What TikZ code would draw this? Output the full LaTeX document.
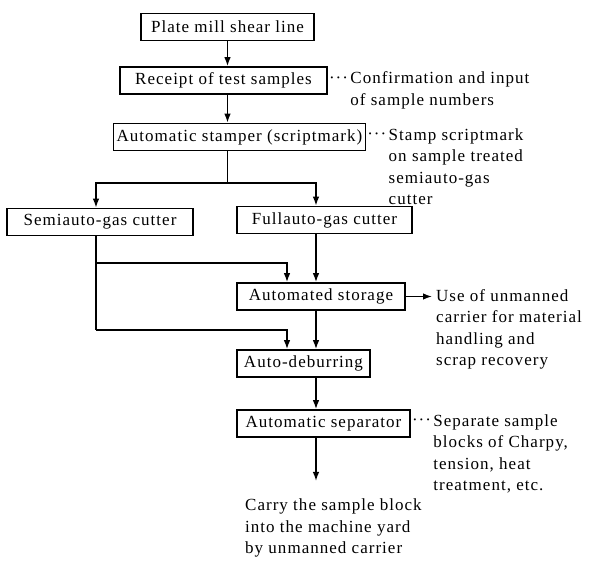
\documentclass[tikz,border=0pt]{standalone}
\usepackage{fontspec}
\setmainfont{Liberation Serif}[LetterSpace=6]
\usetikzlibrary{arrows.meta}

\tikzset{
  stage/.style={draw, line width=1.6pt, minimum height=27pt, inner sep=3pt},
  flow/.style={line width=1.4pt, -{Latex[length=9pt,width=6.5pt]}},
  link/.style={line width=1.4pt},
  note/.style={inner sep=0pt, align=left, anchor=north west, yshift=13pt,
    execute at begin node=\strut},
  dotsep/.style={inner sep=0pt, anchor=base west},
}
\newcommand{\leaddots}{\raisebox{1.5pt}{\textperiodcentered\textperiodcentered\textperiodcentered}}

\begin{document}
\begin{tikzpicture}[x=1pt, y=-1pt, font=\fontsize{17}{21.5}\selectfont]
    \useasboundingbox (0,0) rectangle (606,564);

    % stages of the sample line
    \node[stage, minimum width=173pt] (plate) at (227.5, 27) {Plate mill shear line};
    \node[stage, minimum width=207pt] (receipt) at (223.5, 80.5) {Receipt of test samples};
    \node[stage, minimum width=251pt] (stamper) at (239.5, 137) {Automatic stamper (scriptmark)};
    \node[stage, minimum width=186pt] (semi) at (100, 222) {Semiauto-gas cutter};
    \node[stage, minimum width=175pt] (full) at (324.5, 220) {Fullauto-gas cutter};
    \node[stage, minimum width=168pt] (storage) at (321, 296.5) {Automated storage};
    \node[stage, minimum width=133pt] (deburr) at (303.5, 363.5) {Auto-deburring};
    \node[stage, minimum width=173pt] (separator) at (323.5, 423.5) {Automatic separator};

    % columns and bends of the connectors
    \coordinate (leftcol) at (96, 0);
    \coordinate (sidecol) at (287, 0);
    \coordinate (maincol) at (316, 0);
    \coordinate (split) at (227.5, 183);
    \coordinate (feed) at (96, 263);
    \coordinate (bypass) at (96, 330);
    \coordinate (yard) at (316, 481);

    % main line
    \draw[flow] (plate.south) -- (plate.south |- receipt.north);
    \draw[flow] (plate.south |- receipt.south) -- (plate.south |- stamper.north);
    \draw[link] (plate.south |- stamper.south) -- (split);
    \draw[flow] (split) -| (leftcol |- semi.north);
    \draw[flow] (split) -| (maincol |- full.north);

    % semiauto route skips round the storage
    \draw[link] (leftcol |- semi.south) -- (bypass);
    \draw[flow] (feed) -| (sidecol |- storage.north);
    \draw[flow] (bypass) -| (sidecol |- deburr.north);

    \draw[flow] (maincol |- full.south) -- (maincol |- storage.north);
    \draw[flow] (maincol |- storage.south) -- (maincol |- deburr.north);
    \draw[flow] (maincol |- deburr.south) -- (maincol |- separator.north);
    \draw[flow] (maincol |- separator.south) -- (yard);

    % side notes
    \node[dotsep] (confdots) at ([xshift=1pt]receipt.east |- receipt.base) {\leaddots};
    \node[note] (confnote) at ([xshift=2pt]confdots.base east) {Confirmation and input\\of sample numbers};

    \node[dotsep] (stampdots) at ([xshift=1pt]stamper.east |- stamper.base) {\leaddots};
    \node[note] (stampnote) at ([xshift=2pt]stampdots.base east) {Stamp scriptmark\\on sample treated\\semiauto-gas\\cutter};

    \node[note] (usenote) at (436, 302) {Use of unmanned\\carrier for material\\handling and\\scrap recovery};
    \draw[flow] (storage.east) -- ([xshift=-4pt]storage.east -| usenote.west);

    \node[dotsep] (sepdots) at ([xshift=1pt]separator.east |- separator.base) {\leaddots};
    \node[note] (sepnote) at ([xshift=2pt]sepdots.base east) {Separate sample\\blocks of Charpy,\\tension, heat\\treatment, etc.};

    \node[note] (carrynote) at (245, 512) {Carry the sample block\\into the machine yard\\by unmanned carrier};
\end{tikzpicture}
\end{document}
